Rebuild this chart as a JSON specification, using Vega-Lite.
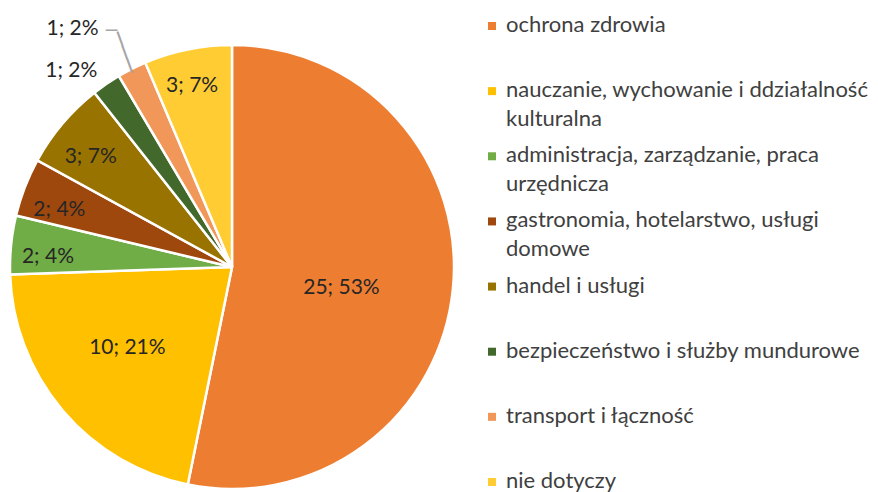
{
  "$schema": "https://vega.github.io/schema/vega-lite/v6.json",
  "padding": 0,
  "spacing": 0,
  "bounds": "flush",
  "background": "white",
  "config": {"view": {"stroke": null}, "font": "Lato"},
  "data": {
    "values": [
      {"order": 1, "category": "ochrona zdrowia", "legend": "ochrona zdrowia", "value": 25, "label": "25; 53%"},
      {"order": 2, "category": "nauczanie, wychowanie i ddziałalność kulturalna", "legend": "nauczanie, wychowanie i ddziałalność|kulturalna", "value": 10, "label": "10; 21%"},
      {"order": 3, "category": "administracja, zarządzanie, praca urzędnicza", "legend": "administracja, zarządzanie, praca|urzędnicza", "value": 2, "label": "2; 4%"},
      {"order": 4, "category": "gastronomia, hotelarstwo, usługi domowe", "legend": "gastronomia, hotelarstwo, usługi|domowe", "value": 2, "label": "2; 4%"},
      {"order": 5, "category": "handel i usługi", "legend": "handel i usługi", "value": 3, "label": "3; 7%"},
      {"order": 6, "category": "bezpieczeństwo i służby mundurowe", "legend": "bezpieczeństwo i służby mundurowe", "value": 1, "label": "1; 2%"},
      {"order": 7, "category": "transport i łączność", "legend": "transport i łączność", "value": 1, "label": "1; 2%"},
      {"order": 8, "category": "nie dotyczy", "legend": "nie dotyczy", "value": 3, "label": "3; 7%"}
    ]
  },
  "hconcat": [
    {
      "width": 464,
      "height": 534,
      "encoding": {
        "theta": {"field": "value", "type": "quantitative", "stack": true},
        "order": {"field": "order", "type": "quantitative", "sort": "ascending"}
      },
      "layer": [
        {
          "mark": {"type": "arc", "outerRadius": 222, "stroke": "white", "strokeWidth": 2.5},
          "encoding": {
            "color": {
              "field": "category", "type": "nominal", "legend": null,
              "scale": {
                "domain": ["ochrona zdrowia", "nauczanie, wychowanie i ddziałalność kulturalna", "administracja, zarządzanie, praca urzędnicza", "gastronomia, hotelarstwo, usługi domowe", "handel i usługi", "bezpieczeństwo i służby mundurowe", "transport i łączność", "nie dotyczy"],
                "range": ["#ED7D31", "#FFC000", "#70AD47", "#9E480E", "#997300", "#43682B", "#F1975A", "#FFCD33"]
              }
            }
          }
        },
        {
          "mark": {"type": "text", "clip": true, "radius": 110, "dy": 10, "fontSize": 21, "color": "#262626", "baseline": "middle"},
          "encoding": {"text": {"condition": {"test": "datum.order == 1", "field": "label"}, "value": ""}}
        },
        {
          "mark": {"type": "text", "clip": true, "radius": 137, "dy": -7, "fontSize": 21, "color": "#262626", "baseline": "middle"},
          "encoding": {"text": {"condition": {"test": "datum.order == 2", "field": "label"}, "value": ""}}
        },
        {
          "mark": {"type": "text", "clip": true, "radius": 185, "dy": 9, "fontSize": 21, "color": "#262626", "baseline": "middle"},
          "encoding": {"text": {"condition": {"test": "datum.order == 3 || datum.order == 4 || datum.order == 5", "field": "label"}, "value": ""}}
        },
        {
          "mark": {"type": "text", "clip": true, "radius": 185, "dx": -3, "fontSize": 21, "color": "#262626", "baseline": "middle"},
          "encoding": {"text": {"condition": {"test": "datum.order == 8", "field": "label"}, "value": ""}}
        },
        {
          "mark": {"type": "text", "clip": true, "radius": 238, "fontSize": 21, "color": "#262626", "baseline": "middle", "align": "right"},
          "encoding": {"text": {"condition": {"test": "datum.order == 6", "field": "label"}, "value": ""}}
        },
        {
          "mark": {"type": "text", "clip": true, "radius": 267, "dx": -13, "fontSize": 21, "color": "#262626", "baseline": "middle", "align": "right"},
          "encoding": {"text": {"condition": {"test": "datum.order == 7", "field": "label"}, "value": ""}}
        },
        {
          "mark": {"type": "text", "clip": true, "radius": 241, "dx": 1, "font": "DejaVu Sans Mono", "fontSize": 24, "angle": 70, "color": "#A6A6A6", "baseline": "middle", "align": "center"},
          "encoding": {"text": {"condition": {"test": "datum.order == 7", "value": "───"}, "value": ""}}
        },
        {
          "mark": {"type": "text", "clip": true, "radius": 265, "dx": -1, "dy": 1, "font": "DejaVu Sans Mono", "fontSize": 19, "color": "#A6A6A6", "baseline": "middle", "align": "center"},
          "encoding": {"text": {"condition": {"test": "datum.order == 7", "value": "─"}, "value": ""}}
        }
      ]
    },
    {
      "width": 414,
      "height": 534,
      "encoding": {
        "y": {
          "field": "category", "type": "nominal", "axis": null,
          "scale": {
            "type": "point",
            "padding": 0,
            "domain": ["ochrona zdrowia", "nauczanie, wychowanie i ddziałalność kulturalna", "administracja, zarządzanie, praca urzędnicza", "gastronomia, hotelarstwo, usługi domowe", "handel i usługi", "bezpieczeństwo i służby mundurowe", "transport i łączność", "nie dotyczy"],
            "range": [26, 482]
          }
        }
      },
      "layer": [
        {
          "mark": {"type": "point", "shape": "square", "filled": true, "size": 64, "opacity": 1},
          "encoding": {
            "x": {"value": 28},
            "color": {
              "field": "category", "type": "nominal", "legend": null,
              "scale": {
                "domain": ["ochrona zdrowia", "nauczanie, wychowanie i ddziałalność kulturalna", "administracja, zarządzanie, praca urzędnicza", "gastronomia, hotelarstwo, usługi domowe", "handel i usługi", "bezpieczeństwo i służby mundurowe", "transport i łączność", "nie dotyczy"],
                "range": ["#ED7D31", "#FFC000", "#70AD47", "#9E480E", "#997300", "#43682B", "#F1975A", "#FFCD33"]
              }
            }
          }
        },
        {
          "mark": {"type": "text", "align": "left", "baseline": "alphabetic", "dy": 6, "fontSize": 22, "lineBreak": "|", "lineHeight": 29, "color": "#404040"},
          "encoding": {
            "x": {"value": 42},
            "text": {"field": "legend"}
          }
        }
      ]
    }
  ]
}
